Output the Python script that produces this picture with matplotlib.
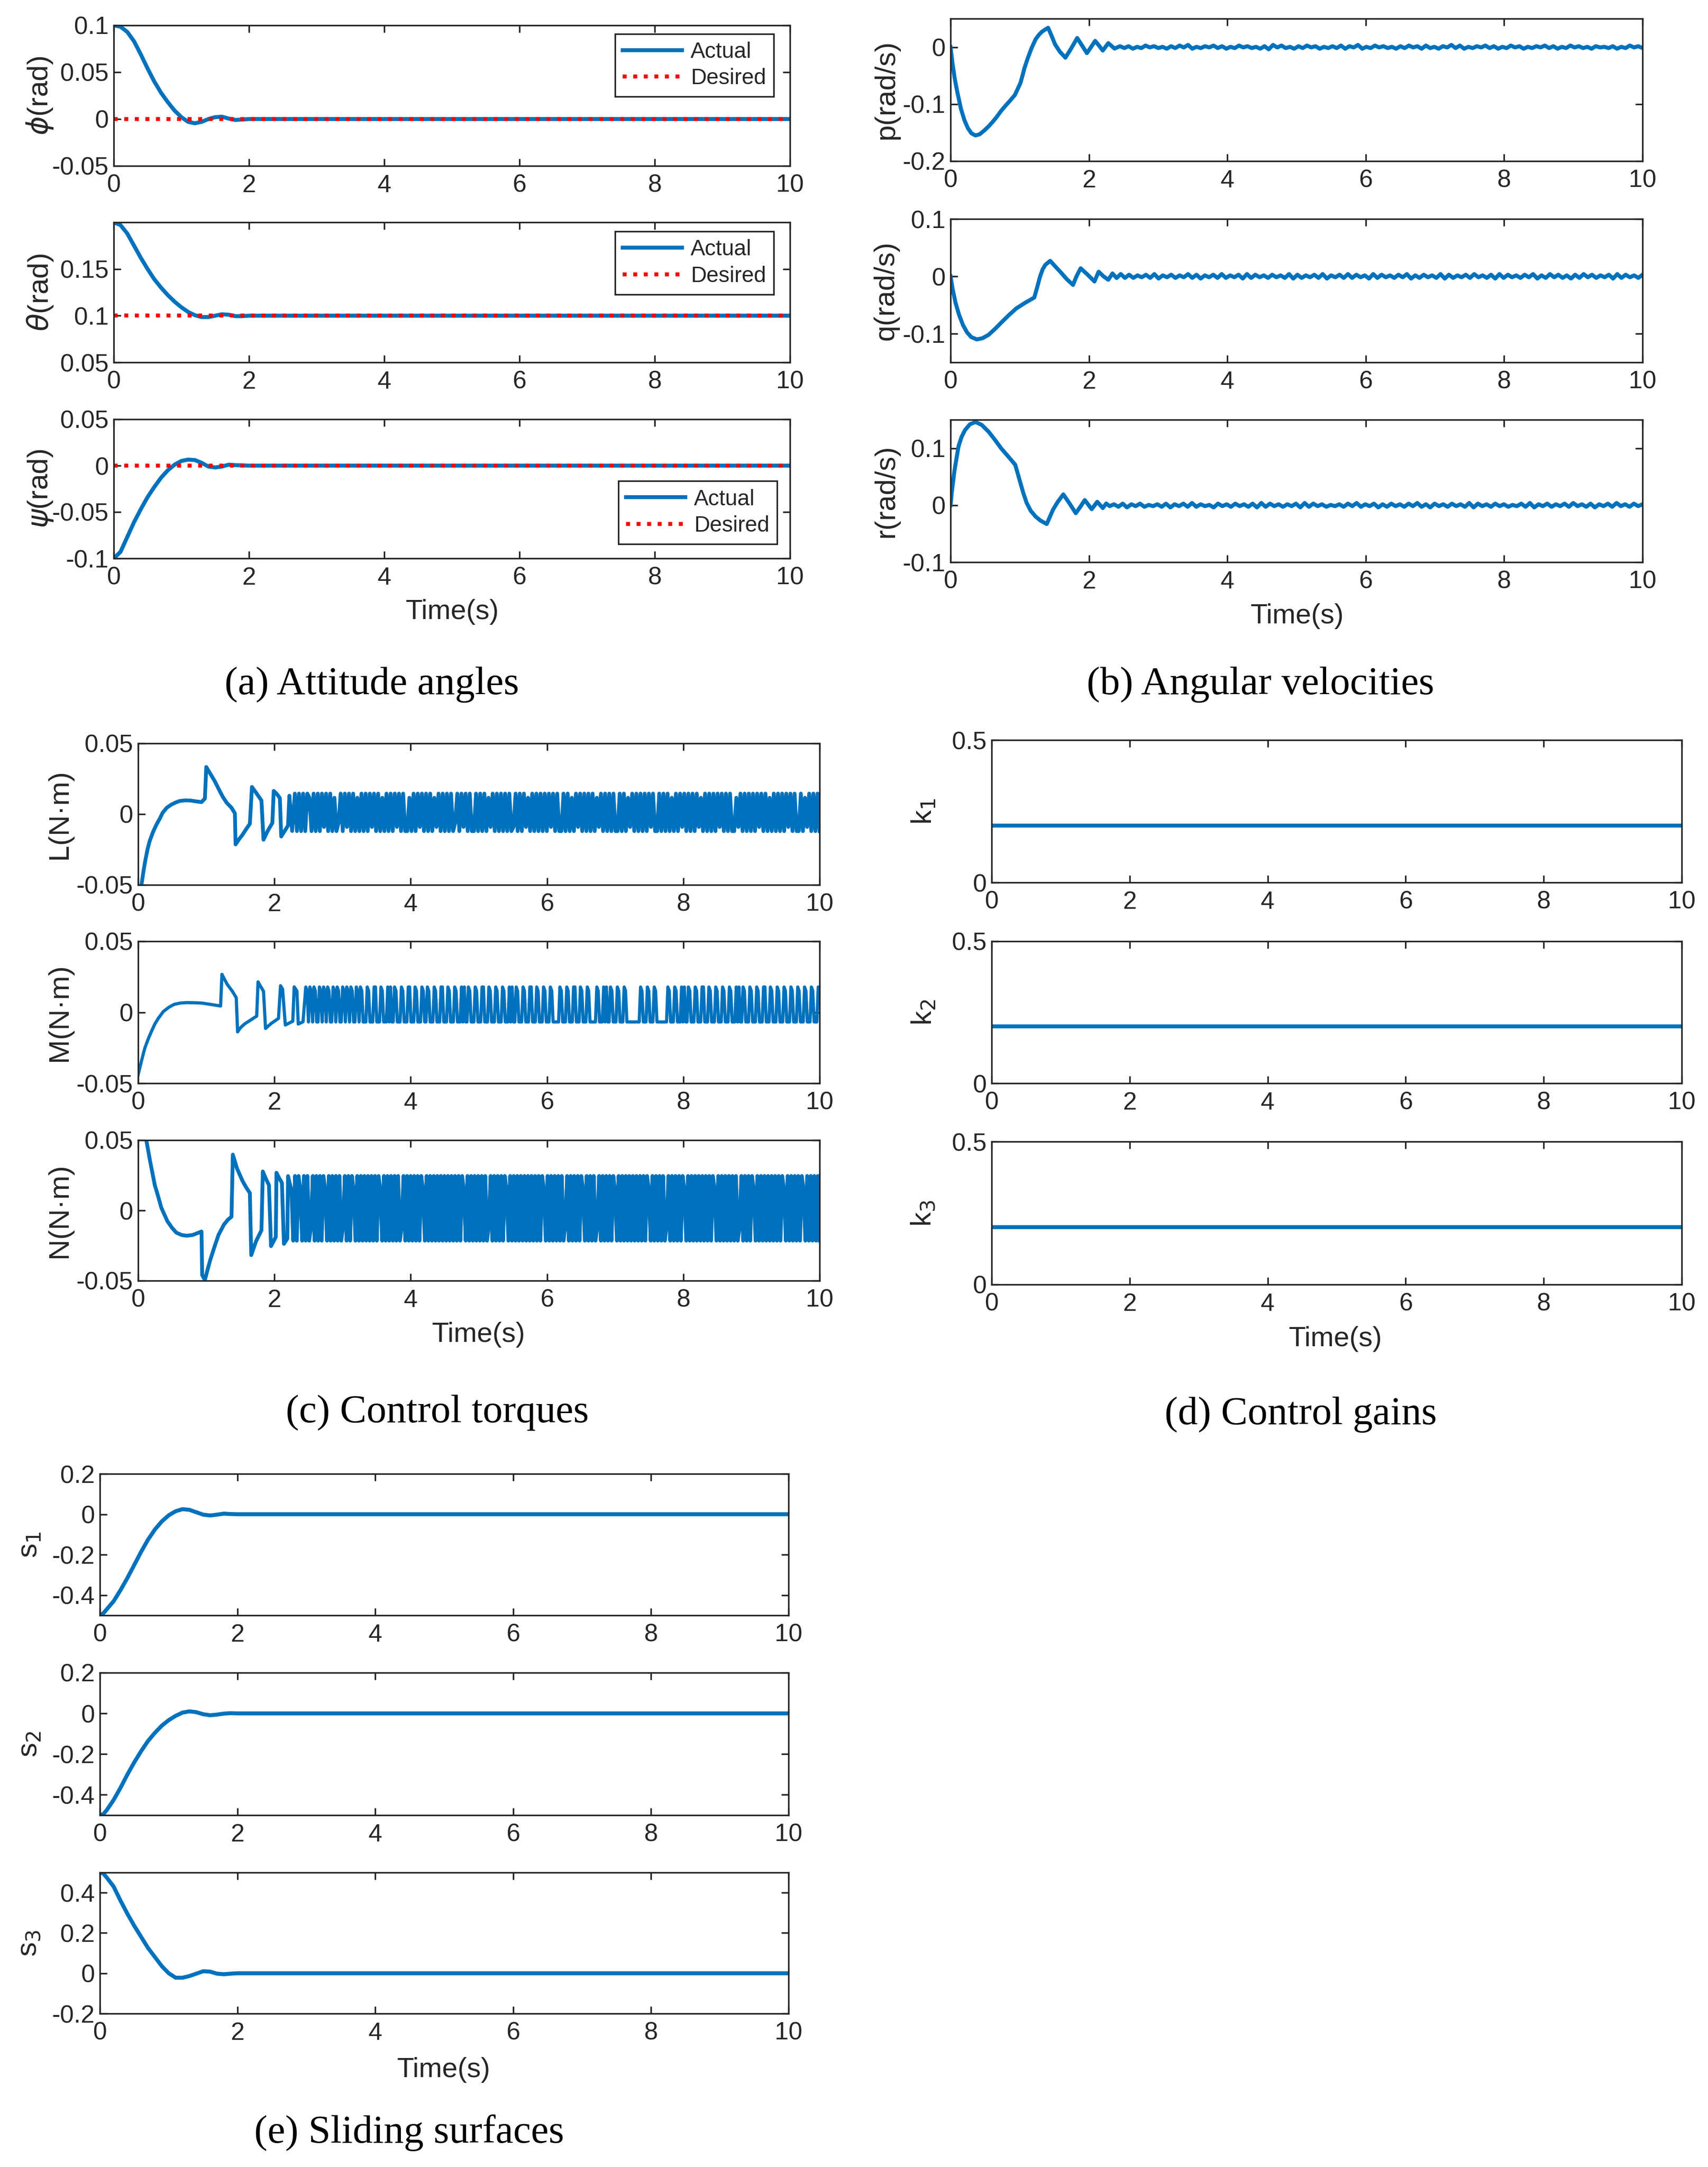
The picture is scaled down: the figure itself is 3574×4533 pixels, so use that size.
import numpy as np
import matplotlib.pyplot as plt
from matplotlib.ticker import FuncFormatter

plt.rcParams['font.family'] = ['Liberation Sans', 'DejaVu Sans']
plt.rcParams['axes.unicode_minus'] = False

BLUE = '#0072BD'
DARK = '#262626'

# ---------------- data ----------------
# (a) attitude angles (transient, steady after t=2)
phi_t = [0, 0.1, 0.2, 0.3, 0.4, 0.5, 0.6, 0.7, 0.8, 0.9, 1.0, 1.1, 1.2, 1.3, 1.4, 1.5, 1.6, 1.7, 1.8, 1.9, 2.0, 10]
phi_v = [0.1, 0.0985, 0.093, 0.083, 0.069, 0.054, 0.04, 0.028, 0.018, 0.009, 0.002, -0.003, -0.0045, -0.003,
         0.0, 0.002, 0.0025, 0.0005, -0.001, -0.0005, 0.0, 0.0]
theta_t = [0, 0.1, 0.2, 0.3, 0.4, 0.5, 0.6, 0.7, 0.8, 0.9, 1.0, 1.1, 1.2, 1.3, 1.4, 1.5, 1.6, 1.7, 1.8, 1.9, 2.0, 10]
theta_v = [0.2, 0.197, 0.188, 0.175, 0.162, 0.15, 0.139, 0.13, 0.122, 0.115, 0.109, 0.104, 0.1005, 0.0985,
           0.0985, 0.1, 0.1015, 0.101, 0.0995, 0.0995, 0.1, 0.1]
psi_t = [0, 0.1, 0.2, 0.3, 0.4, 0.5, 0.6, 0.7, 0.8, 0.9, 1.0, 1.1, 1.2, 1.3, 1.4, 1.5, 1.6, 1.7, 1.8, 2.0, 10]
psi_v = [-0.1, -0.093, -0.077, -0.061, -0.047, -0.034, -0.023, -0.013, -0.005, 0.001, 0.005, 0.0065, 0.006,
         0.003, -0.001, -0.002, -0.001, 0.001, 0.0005, 0.0, 0.0]
phi_des, theta_des, psi_des = 0.0, 0.1, 0.0

# (b) angular velocities: transient points, then chattering digits (0..9 -> -A..+A)
p_t = [0, 0.03, 0.06, 0.1, 0.15, 0.2, 0.25, 0.3, 0.36, 0.42, 0.49, 0.55, 0.61, 0.67, 0.73, 0.8, 0.86, 0.93,
       1.01, 1.04, 1.07, 1.12, 1.17, 1.23, 1.28, 1.32, 1.37, 1.41, 1.46, 1.51, 1.58, 1.66, 1.74, 1.83, 1.9,
       1.97, 2.03, 2.09, 2.15, 2.2, 2.28, 2.37]
p_v = [0, -0.03, -0.055, -0.08, -0.108, -0.128, -0.142, -0.151, -0.155, -0.153, -0.146, -0.139, -0.131, -0.122,
       -0.112, -0.102, -0.094, -0.084, -0.063, -0.05, -0.036, -0.018, -0.002, 0.014, 0.022, 0.027, 0.031, 0.034,
       0.02, 0.005, -0.008, -0.0185, -0.003, 0.016, 0.003, -0.0105, 0.0, 0.011, 0.002, -0.006, 0.007, -0.0025]
p_chat = ("63625374635263748253647362537463526184735263746253637264825374"
          "63526374627352648372536473625374625364736253746352645362537463")
q_t = [0, 0.03, 0.07, 0.12, 0.18, 0.24, 0.3, 0.38, 0.46, 0.55, 0.64, 0.73, 0.84, 0.95, 1.08, 1.21, 1.25, 1.29,
       1.33, 1.37, 1.44, 1.5, 1.6, 1.68, 1.77, 1.82, 1.88, 1.98, 2.08, 2.14, 2.21, 2.28, 2.34, 2.4, 2.46]
q_v = [0, -0.022, -0.045, -0.066, -0.085, -0.098, -0.106, -0.11, -0.108, -0.102, -0.092, -0.081, -0.068, -0.056,
       -0.046, -0.037, -0.02, -0.002, 0.012, 0.02, 0.027, 0.019, 0.006, -0.005, -0.015, 0.0, 0.014, 0.003,
       -0.009, 0.008, 0.0, -0.006, 0.005, -0.003, 0.004]
q_chat = ("27263728163726382716372826371827362736281726372816372827361827"
          "36273816273628172637283627182736273816283726172837263718273627")
r_t = [0, 0.02, 0.056, 0.09, 0.117, 0.16, 0.21, 0.28, 0.36, 0.45, 0.55, 0.64, 0.73, 0.83, 0.935, 0.97, 1.01,
       1.05, 1.1, 1.16, 1.23, 1.3, 1.39, 1.43, 1.48, 1.55, 1.63, 1.72, 1.81, 1.88, 1.94, 2.04, 2.12, 2.2, 2.25]
r_v = [0, 0.025, 0.06, 0.085, 0.104, 0.12, 0.132, 0.142, 0.146, 0.141, 0.129, 0.115, 0.1, 0.086, 0.071, 0.056,
       0.039, 0.022, 0.004, -0.01, -0.02, -0.027, -0.033, -0.022, -0.008, 0.006, 0.019, 0.003, -0.014, -0.002,
       0.009, -0.007, 0.006, -0.005, 0.003]
r_chat = ("36271637253627163728263517362736271827362637182736253627382637"
          "16273627382617362736281736273625372816372637283627163728362736")

# (c) control torques: transient points, then switching digits (0 -> low, 9 -> high)
L_t = [0, 0.05, 0.08, 0.11, 0.14, 0.17, 0.22, 0.27, 0.32, 0.36, 0.42, 0.49, 0.55, 0.61, 0.69, 0.77, 0.85, 0.93,
       0.98, 1.0, 1.06, 1.12, 1.18, 1.24, 1.3, 1.37, 1.42, 1.43, 1.48, 1.53, 1.58, 1.64, 1.67, 1.74, 1.81, 1.84,
       1.9, 1.97, 1.99, 2.04, 2.08, 2.1, 2.15, 2.2, 2.22, 2.26]
L_v = [-0.058, -0.0497, -0.04, -0.0316, -0.0245, -0.019, -0.0125, -0.0073, -0.003, 0.001, 0.0045, 0.0068,
       0.0082, 0.0093, 0.0097, 0.0096, 0.009, 0.0085, 0.011, 0.0333, 0.0285, 0.0237, 0.018, 0.0124, 0.008,
       0.0045, 0.0006, -0.0214, -0.0178, -0.0147, -0.011, -0.0068, 0.0192, 0.0145, 0.0096, -0.0181, -0.012,
       -0.0062, 0.0164, 0.014, 0.0113, -0.0158, -0.012, -0.008, 0.013, -0.0119]
L_chat = ("9090909809090919090802909190908090909190"
          "9080909091909008090919090908190909090290"
          "9190900909090819090909090190909180909090"
          "9091909009090809190909090819090909009090"
          "8190909090919009090908090919090909180909"
          "0909190909008190909090919090809090909190"
          "9009081909090")
M_t = [0, 0.056, 0.1, 0.15, 0.2, 0.245, 0.3, 0.37, 0.45, 0.53, 0.62, 0.71, 0.82, 0.93, 1.07, 1.21, 1.23, 1.27,
       1.31, 1.38, 1.44, 1.46, 1.5, 1.56, 1.65, 1.74, 1.76, 1.8, 1.84, 1.87, 1.95, 2.06, 2.09, 2.12, 2.16, 2.22,
       2.27, 2.29, 2.33, 2.35, 2.42]
M_v = [-0.044, -0.033, -0.025, -0.0186, -0.013, -0.0083, -0.004, 0.0005, 0.0035, 0.0056, 0.0065, 0.0068,
       0.0067, 0.0065, 0.0055, 0.0044, 0.0267, 0.023, 0.0195, 0.015, 0.0103, -0.0138, -0.011, -0.0083, -0.0055,
       -0.0027, 0.0214, 0.018, 0.0148, -0.0114, -0.008, -0.0043, 0.0187, 0.0163, -0.009, -0.0075, -0.0063,
       0.0179, 0.015, -0.0083, -0.0067]
M_chat = ("9809809800980980980098098009809809800980"
          "9800098000990009800090900980009800099000"
          "9800098009800098000990009800098000909009"
          "8000980009900098000980009800090900980009"
          "8000990009800098000980000098000980009900"
          "0980009800000980009090098000980009800000"
          "0000098000980009800000000980009800090900"
          "9800098000990009800098000980009800090900"
          "9800098000980009900098000980009800098000"
          "98000980009800098")
N_t = [0, 0.06, 0.12, 0.18, 0.245, 0.3, 0.34, 0.43, 0.5, 0.56, 0.64, 0.71, 0.8, 0.93, 0.94, 0.98, 1.02, 1.06,
       1.12, 1.18, 1.26, 1.32, 1.37, 1.39, 1.45, 1.53, 1.59, 1.64, 1.66, 1.73, 1.81, 1.83, 1.88, 1.92, 1.95,
       2.02, 2.03, 2.07, 2.11, 2.14, 2.19, 2.2]
N_v = [0.09, 0.068, 0.05, 0.034, 0.018, 0.009, 0.002, -0.0077, -0.0125, -0.0158, -0.0175, -0.018, -0.0175,
       -0.015, -0.046, -0.0495, -0.042, -0.035, -0.026, -0.0174, -0.01, -0.0065, -0.0045, 0.0397, 0.03, 0.0212,
       0.016, 0.0124, -0.0318, -0.022, -0.0141, 0.0277, 0.022, 0.018, -0.0254, -0.019, 0.0268, 0.023, 0.0196,
       -0.0238, -0.02, 0.0244]
N_chat = ("7090970909029090909709090909029090970909"
          "0909090909709090909090290909090909709090"
          "9090909090909090970909090909090290909090"
          "9709090909090909090909709090909090290909"
          "0909709090902909090909709090909090909090"
          "9709090909029090909097090909090909090970"
          "9090909090902909090970909090909090909709"
          "090909097090909090")

# (d) control gains
k_t = [0, 10]
k1_v = [0.2, 0.2]
k2_v = [0.2, 0.2]
k3_v = [0.2, 0.2]

# (e) sliding surfaces
s_t = [0, 0.05, 0.1, 0.2, 0.3, 0.4, 0.5, 0.6, 0.7, 0.8, 0.9, 1.0, 1.1, 1.2, 1.3, 1.4, 1.5, 1.6, 1.7, 1.8, 1.9, 2.0, 10]
s1_v = [-0.5, -0.49, -0.47, -0.43, -0.375, -0.315, -0.25, -0.185, -0.125, -0.075, -0.035, -0.005, 0.015, 0.025,
        0.022, 0.01, -0.002, -0.006, -0.002, 0.003, 0.001, 0.0, 0.0]
s2_v = [-0.5, -0.495, -0.475, -0.425, -0.365, -0.3, -0.24, -0.185, -0.135, -0.095, -0.06, -0.033, -0.012,
        0.004, 0.01, 0.006, -0.004, -0.009, -0.006, -0.001, 0.001, 0.0, 0.0]
s3_v = [0.5, 0.495, 0.475, 0.43, 0.36, 0.295, 0.235, 0.18, 0.125, 0.08, 0.035, 0.0, -0.022, -0.022, -0.014,
        -0.002, 0.01, 0.008, -0.002, -0.005, -0.002, 0.0, 0.0]


def chatter(code, t0, lo, hi, t1=10.0):
    d = np.array([int(c) for c in code], dtype=float)
    return np.linspace(t0, t1, len(d)), lo + (hi - lo) * d / 9.0


def series(t, v, code, t0, lo, hi):
    tc, vc = chatter(code, t0, lo, hi)
    return np.concatenate([t, tc]), np.concatenate([v, vc])


# ---------------- figure ----------------
W, H = 3574, 4533
fig = plt.figure(figsize=(W / 300, H / 300), dpi=300)


def add_ax(l, r, t, b):
    return fig.add_axes([l / W, 1 - b / H, (r - l) / W, (b - t) / H])


def style(ax, ylim, yticks, ylabel, lx):
    ax.set_xlim(0, 10)
    ax.set_xticks([0, 2, 4, 6, 8, 10])
    ax.set_ylim(*ylim)
    ax.set_yticks(yticks)
    ax.yaxis.set_major_formatter(FuncFormatter(lambda v, p: '%g' % round(v, 4)))
    ax.tick_params(direction='in', top=True, right=True, length=3.6, width=0.8,
                   labelsize=12.5, colors=DARK)
    ax.tick_params(axis='x', pad=4)
    ax.tick_params(axis='y', pad=2.5)
    for s in ax.spines.values():
        s.set_linewidth(0.8)
        s.set_color(DARK)
    ax.set_ylabel(ylabel, fontsize=14.5, color=DARK)
    ax.yaxis.set_label_coords(lx, 0.5)


def legend(ax, loc, anchor):
    lg = ax.legend(['Actual', 'Desired'], loc=loc, bbox_to_anchor=anchor, borderaxespad=0,
                   fancybox=False, edgecolor=DARK, framealpha=1, fontsize=11,
                   handlelength=2.7, borderpad=0.35, labelspacing=0.25, handletextpad=0.4)
    lg.get_frame().set_linewidth(0.8)
    for t in lg.get_texts():
        t.set_color(DARK)


LW = 2.0
LWC = 1.9

# (a)
ax = add_ax(238, 1653, 53, 347)
ax.plot(phi_t, phi_v, color=BLUE, lw=LW)
ax.plot([0, 10], [phi_des, phi_des], ':', color='r', lw=LW)
style(ax, (-0.05, 0.1), [-0.05, 0, 0.05, 0.1], r'$\phi$(rad)', -0.087)
legend(ax, 'upper right', (0.976, 0.939))

ax = add_ax(238, 1653, 465, 758)
ax.plot(theta_t, theta_v, color=BLUE, lw=LW)
ax.plot([0, 10], [theta_des, theta_des], ':', color='r', lw=LW)
style(ax, (0.05, 0.2), [0.05, 0.1, 0.15], r'$\theta$(rad)', -0.087)
legend(ax, 'upper right', (0.976, 0.935))

ax = add_ax(238, 1653, 877, 1168)
ax.plot(psi_t, psi_v, color=BLUE, lw=LW)
ax.plot([0, 10], [psi_des, psi_des], ':', color='r', lw=LW)
style(ax, (-0.1, 0.05), [-0.1, -0.05, 0, 0.05], r'$\psi$(rad)', -0.087)
legend(ax, 'lower right', (0.981, 0.103))

# (b)
A = 0.005
ax = add_ax(1989, 3437, 39, 337)
t, v = series(p_t, p_v, p_chat, 2.45, -A, A)
ax.plot(t, v, color=BLUE, lw=LW)
style(ax, (-0.2, 0.05), [-0.2, -0.1, 0], 'p(rad/s)', -0.074)

ax = add_ax(1989, 3437, 458, 758)
t, v = series(q_t, q_v, q_chat, 2.52, -A, A)
ax.plot(t, v, color=BLUE, lw=LW)
style(ax, (-0.15, 0.1), [-0.1, 0, 0.1], 'q(rad/s)', -0.074)

ax = add_ax(1989, 3437, 878, 1176)
t, v = series(r_t, r_v, r_chat, 2.3, -A, A)
ax.plot(t, v, color=BLUE, lw=LW)
style(ax, (-0.1, 0.15), [-0.1, 0, 0.1], 'r(rad/s)', -0.074)

# (c)
ax = add_ax(289, 1715, 1555, 1851)
t, v = series(L_t, L_v, L_chat, 2.3, -0.012, 0.0145)
ax.plot(t, v, color=BLUE, lw=LWC)
style(ax, (-0.05, 0.05), [-0.05, 0, 0.05], 'L(N·m)', -0.096)

ax = add_ax(289, 1715, 1969, 2266)
t, v = series(M_t, M_v, M_chat, 2.46, -0.0068, 0.0178)
ax.plot(t, v, color=BLUE, lw=1.6)
style(ax, (-0.05, 0.05), [-0.05, 0, 0.05], 'M(N·m)', -0.096)

ax = add_ax(289, 1715, 2385, 2679)
t, v = series(N_t, N_v, N_chat, 2.25, -0.0215, 0.0245)
ax.plot(t, v, color=BLUE, lw=LWC)
style(ax, (-0.05, 0.05), [-0.05, 0, 0.05], 'N(N·m)', -0.096)

# (d)
for (top, bot), kv, lab in zip([(1548, 1846), (1969, 2266), (2388, 2687)],
                               [k1_v, k2_v, k3_v], ['k$_1$', 'k$_2$', 'k$_3$']):
    ax = add_ax(2075, 3519, top, bot)
    ax.plot(k_t, kv, color=BLUE, lw=LW)
    style(ax, (0, 0.5), [0, 0.5], lab, -0.079)

# (e)
rows_e = [(3083, 3379), (3499, 3797), (3917, 4212)]
for (top, bot), sv, lab, yl, yt in zip(rows_e, [s1_v, s2_v, s3_v], ['s$_1$', 's$_2$', 's$_3$'],
                                       [(-0.5, 0.2), (-0.5, 0.2), (-0.2, 0.5)],
                                       [[-0.4, -0.2, 0, 0.2], [-0.4, -0.2, 0, 0.2], [-0.2, 0, 0.2, 0.4]]):
    ax = add_ax(209, 1650, top, bot)
    ax.plot(s_t, sv, color=BLUE, lw=LW)
    style(ax, yl, yt, lab, -0.083)

# x labels and captions
for x, y in [(946, 1280), (2714, 1289), (1002, 2792), (2795, 2801), (929, 4330)]:
    fig.text(x / W, 1 - y / H, 'Time(s)', ha='center', va='center', fontsize=14, color=DARK)

captions = ['(a) Attitude angles', '(b) Angular velocities', '(c) Control torques',
            '(d) Control gains', '(e) Sliding surfaces']
for (x, y), c in zip([(778, 1432), (2637, 1432), (915, 2955), (2722, 2959), (856, 4462)], captions):
    fig.text(x / W, 1 - y / H, c, ha='center', va='center', fontsize=20,
             family=['Liberation Serif', 'DejaVu Serif'], color='black')

fig.savefig('out.png', dpi=300)
